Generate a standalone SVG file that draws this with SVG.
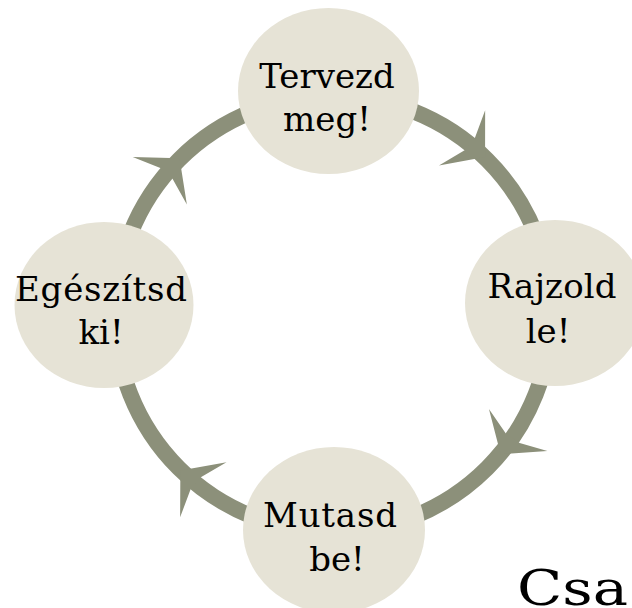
<svg xmlns="http://www.w3.org/2000/svg" width="632" height="608" viewBox="0 0 632 608">
<style>
.ring{fill:none;stroke:#8c907a;stroke-width:16}
.head{fill:#8c907a}
.node{fill:#e6e3d6}
.lbl{font-family:"DejaVu Serif","Liberation Serif",serif;font-size:34px;fill:#000;text-anchor:middle}
.big{font-family:"DejaVu Serif","Liberation Serif",serif;font-size:48px;fill:#000}
</style>
<defs>
<path id="ah" d="M16,0 L-14,-36 L-4,-8 L-4,8 L-14,36 Z"/>
</defs>
<rect width="632" height="608" fill="#fff"/>
<g id="connectors">
<circle class="ring" cx="333" cy="314" r="218"/>
<use href="#ah" class="head" transform="translate(472.8,146.8) rotate(39.9)"/>
<use href="#ah" class="head" transform="translate(510,441.3) rotate(125.7)"/>
<use href="#ah" class="head" transform="translate(192.6,480.8) rotate(220.1)"/>
<use href="#ah" class="head" transform="translate(169,170.3) rotate(311.2)"/>
</g>
<g id="node-top">
<ellipse class="node" cx="328.5" cy="91" rx="90.5" ry="83"/>
<text class="lbl" x="327" y="88">Tervezd</text>
<text class="lbl" x="327" y="131">meg!</text>
</g>
<g id="node-right">
<ellipse class="node" cx="555" cy="303" rx="90" ry="83"/>
<text class="lbl" x="552" y="298" textLength="129">Rajzold</text>
<text class="lbl" x="548" y="343">le!</text>
</g>
<g id="node-bottom">
<ellipse class="node" cx="334" cy="530" rx="91" ry="83"/>
<text class="lbl" x="330" y="527" textLength="134">Mutasd</text>
<text class="lbl" x="337" y="571">be!</text>
</g>
<g id="node-left">
<ellipse class="node" cx="104" cy="305" rx="89.5" ry="83"/>
<text class="lbl" x="101" y="301" textLength="172">Egészítsd</text>
<text class="lbl" x="101" y="344">ki!</text>
</g>
<text class="big" x="517" y="605" textLength="111" lengthAdjust="spacingAndGlyphs">Csa</text>
</svg>
